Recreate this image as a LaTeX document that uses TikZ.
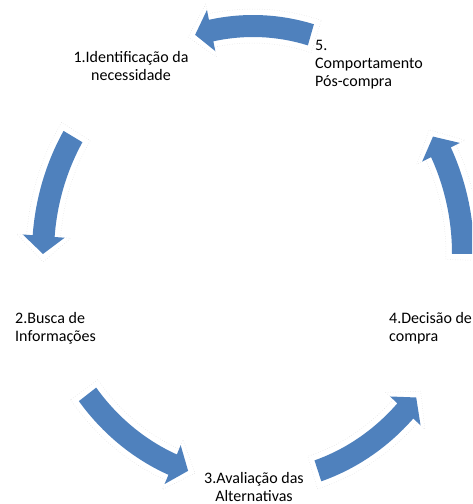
\documentclass[tikz,border=0pt]{standalone}
\usepackage{fontspec}
\setmainfont{Carlito}
\usetikzlibrary{calc}
\definecolor{officeblue}{RGB}{79,129,189}
\newcommand\cyclearrow[3]{%
  \pgfmathsetmacro{\cahb}{#3-4.5}%
  \path[glowline] ($(C)+(#2-1.5:227pt and 245pt)$) arc[start angle=#2-1.5, end angle=\cahb, x radius=227pt, y radius=245pt]
    -- ($(C)+(\cahb:237pt and 255pt)$) -- ($(C)+(#3+2:210pt and 228pt)$) -- ($(C)+(\cahb:183pt and 201pt)$)
    -- ($(C)+(\cahb:193pt and 211pt)$) arc[start angle=\cahb, end angle=#2-1.5, x radius=193pt, y radius=211pt] -- cycle;
  \path[#1] ($(C)+(#2:221pt and 239pt)$) arc[start angle=#2, end angle=\cahb, x radius=221pt, y radius=239pt]
    -- ($(C)+(\cahb:231pt and 249pt)$) -- ($(C)+(#3:210pt and 228pt)$) -- ($(C)+(\cahb:189pt and 207pt)$)
    -- ($(C)+(\cahb:199pt and 217pt)$) arc[start angle=\cahb, end angle=#2, x radius=199pt, y radius=217pt] -- cycle;}
\tikzset{
  blockarrow/.style={fill=officeblue},
  glowline/.style={draw=gray!30, dotted, line width=0.5pt},
  stagetext/.style={inner sep=0pt, font=\fontsize{16}{18}\selectfont, text=black},
}
\begin{document}
\begin{tikzpicture}[x=1pt,y=1pt]
\useasboundingbox (0,0) rectangle (472,504);
\clip (0,0) rectangle (472,504);
\coordinate (C) at (253,250);
% block arrows (counter-clockwise cycle)
\cyclearrow{blockarrow}{74}{106}
\cyclearrow{blockarrow}{149}{180}
\cyclearrow{blockarrow}{218}{252}
\cyclearrow{blockarrow}{288}{321}
\cyclearrow{blockarrow}{0}{31}
% stage labels
\node[stagetext, align=center] (n1) at (131,438) {1.Identificação da\\necessidade};
\node[stagetext, align=left, anchor=west] (n2) at (15,176) {2.Busca de\\Informações};
\node[stagetext, align=center] (n3) at (254,17) {3.Avaliação das\\Alternativas};
\node[stagetext, align=left, anchor=west] (n4) at (389,176) {4.Decisão de\\compra};
\node[stagetext, align=left, anchor=west] (n5) at (315,439) {5.\\Comportamento\\Pós-compra};
\end{tikzpicture}
\end{document}
